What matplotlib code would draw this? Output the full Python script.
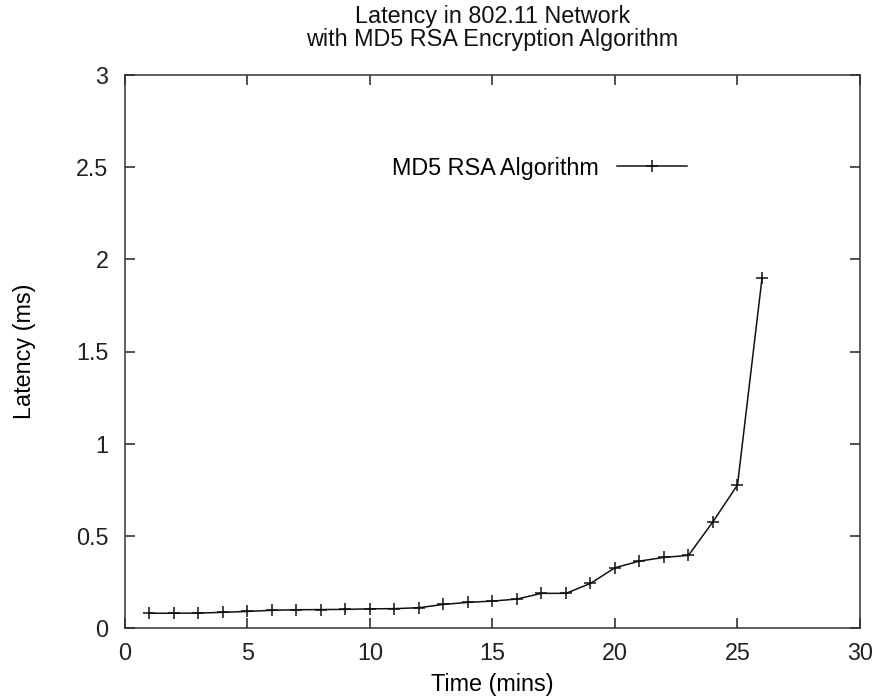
import numpy as np
import matplotlib
matplotlib.use('Agg')
import matplotlib.pyplot as plt

plt.rcParams['font.family'] = ['Liberation Sans', 'DejaVu Sans']

# data
time_mins = [1, 2, 3, 4, 5, 6, 7, 8, 9, 10, 11, 12, 13,
             14, 15, 16, 17, 18, 19, 20, 21, 22, 23, 24, 25, 26]
latency_ms = [0.080, 0.080, 0.081, 0.085, 0.090, 0.096, 0.099, 0.100, 0.101, 0.104,
              0.105, 0.110, 0.128, 0.139, 0.146, 0.157, 0.188, 0.188, 0.242, 0.327,
              0.363, 0.383, 0.394, 0.577, 0.776, 1.897]

xticks = [0, 5, 10, 15, 20, 25, 30]
yticks = [0, 0.5, 1, 1.5, 2, 2.5, 3]
ytick_labels = ['0', '0.5', '1', '1.5', '2', '2.5', '3']

fs = 16.8

fig = plt.figure(figsize=(8.78, 7.0), dpi=100)
ax = fig.add_axes([125 / 878, 1 - 628 / 700, (860 - 125) / 878, (628 - 75) / 700])

ax.plot(time_mins, latency_ms, color='#111111', lw=1.1, marker='+',
        markersize=8, markeredgewidth=1.1, label='MD5 RSA Algorithm')

ax.set_xlim(0, 30)
ax.set_ylim(0, 3)
ax.set_xticks(xticks)
ax.set_xticklabels([str(t) for t in xticks])
ax.set_yticks(yticks)
ax.set_yticklabels(ytick_labels)
ax.tick_params(direction='in', length=7, width=1.1, top=True, right=True,
               labelsize=fs, pad=10, colors='#222222')
ax.tick_params(axis='y', pad=12)
for s in ax.spines.values():
    s.set_linewidth(1.1)
    s.set_color('#333333')

ax.set_xlabel('Time (mins)', fontsize=fs)
ax.xaxis.set_label_coords(0.5, (628 - 685) / 553)
ax.xaxis.label.set_va('center')
ax.set_ylabel('Latency (ms)', fontsize=fs)
ax.yaxis.set_label_coords((25 - 125) / 735, 0.5)
ax.yaxis.label.set_va('center')
fig.text(492.5 / 878, 1 - 28 / 700,
         'Latency in 802.11 Network\nwith MD5 RSA Encryption Algorithm',
         ha='center', va='center', fontsize=fs, linespacing=1.05, color='#111111')

fig.legend(loc='center right', bbox_to_anchor=(687 / 878, 1 - 168 / 700),
           frameon=False, markerfirst=False, handlelength=3.0,
           handletextpad=0.8, borderpad=0, borderaxespad=0, fontsize=fs)

fig.savefig('out.png', dpi=100)
